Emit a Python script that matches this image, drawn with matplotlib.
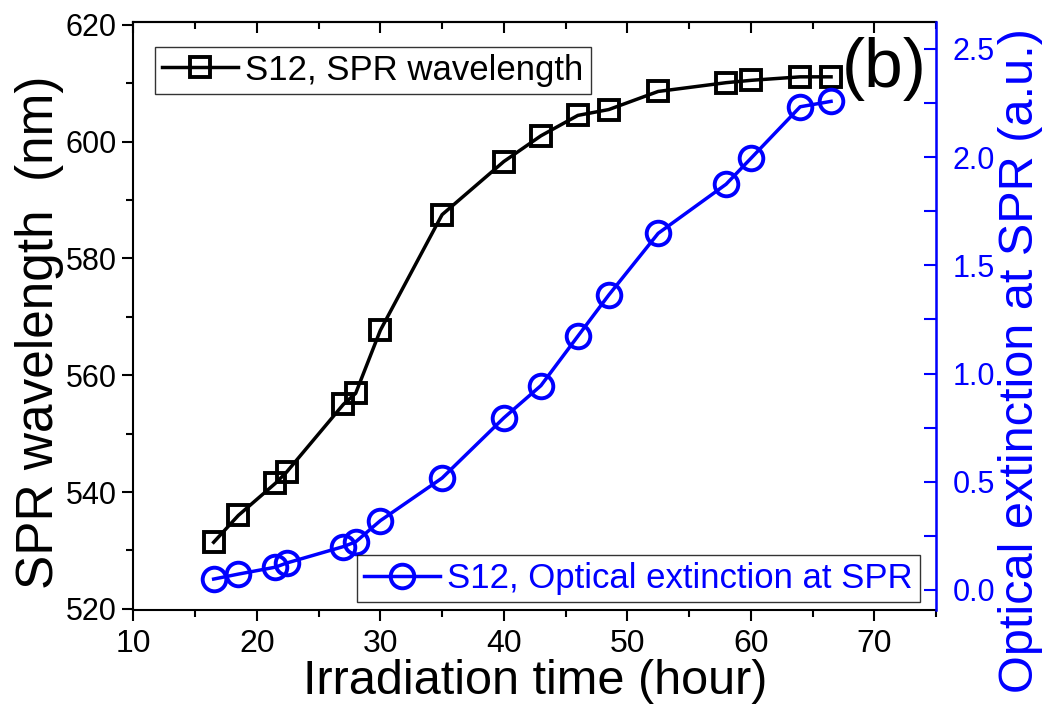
import matplotlib
matplotlib.use("Agg")
import matplotlib.pyplot as plt
from matplotlib import font_manager
from matplotlib.ticker import MultipleLocator

# ---- data ----
time_h = [16.5, 18.5, 21.5, 22.4, 27.0, 28.0, 30.0, 35.0, 40.0, 43.0, 46.0, 48.5, 52.5, 58.0, 60.0, 64.0, 66.5]
spr_wavelength = [531.4, 536.0, 541.5, 543.4, 555.0, 556.9, 567.7, 587.5, 596.6, 601.0, 604.5, 605.5, 608.6, 610.1, 610.5, 611.1, 611.1]
extinction = [0.05, 0.073, 0.105, 0.124, 0.20, 0.222, 0.32, 0.517, 0.795, 0.944, 1.173, 1.363, 1.648, 1.875, 1.994, 2.233, 2.258]

label_wl = "S12, SPR wavelength"
label_ext = "S12, Optical extinction at SPR"
xlabel = "Irradiation time (hour)"
ylabel_left = "SPR wavelength  (nm)"
ylabel_right = "Optical extinction at SPR (a.u.)"
panel = "(b)"

names = {f.name for f in font_manager.fontManager.ttflist}
regular = "Liberation Sans" if "Liberation Sans" in names else "DejaVu Sans"
narrow = "Liberation Sans Narrow" if "Liberation Sans Narrow" in names else regular

BLUE = "#0000ff"

fig = plt.figure(figsize=(10.47, 7.08), dpi=100)
ax = fig.add_axes([0.1274, 0.1384, 0.7666, 0.8306])
ax2 = ax.twinx()

ln1, = ax.plot(time_h, spr_wavelength, color="black", lw=2.5, marker="s", ms=14,
               mfc="none", mec="black", mew=2.8, label=label_wl)
ln2, = ax2.plot(time_h, extinction, color=BLUE, lw=2.5, marker="o", ms=17,
                mfc="none", mec=BLUE, mew=2.8, label=label_ext)

ax.set_xlim(10, 75)
ax.set_ylim(519.8, 620.5)
ax2.set_ylim(-0.093, 2.625)

ax.xaxis.set_major_locator(MultipleLocator(10))
ax.xaxis.set_minor_locator(MultipleLocator(5))
ax.yaxis.set_major_locator(MultipleLocator(20))
ax.yaxis.set_minor_locator(MultipleLocator(10))
ax2.yaxis.set_major_locator(MultipleLocator(0.5))
ax2.yaxis.set_minor_locator(MultipleLocator(0.25))
ax2.yaxis.set_major_formatter(plt.FormatStrFormatter("%.1f"))

ax.tick_params(axis="x", which="both", direction="out", top=False, width=1.5)
ax.tick_params(axis="x", which="major", length=8, pad=6)
ax.tick_params(axis="x", which="minor", length=5)
ax.tick_params(axis="y", which="both", direction="out", width=1.5)
ax.tick_params(axis="y", which="major", length=8, pad=4)
ax.tick_params(axis="y", which="minor", length=5)

# top ticks inward
axt = ax.secondary_xaxis("top")
axt.xaxis.set_major_locator(MultipleLocator(10))
axt.xaxis.set_minor_locator(MultipleLocator(5))
axt.tick_params(axis="x", which="both", direction="in", labeltop=False, width=1.5)
axt.tick_params(axis="x", which="major", length=8)
axt.tick_params(axis="x", which="minor", length=5)
axt.spines["top"].set_linewidth(1.5)

ax2.tick_params(axis="y", which="both", direction="in", colors=BLUE, width=1.5)
ax2.tick_params(axis="y", which="major", length=9, pad=12)
ax2.tick_params(axis="y", which="minor", length=9)

for s in ["left", "bottom", "top"]:
    ax.spines[s].set_linewidth(1.5)
ax2.spines["right"].set_color(BLUE)
ax2.spines["right"].set_linewidth(1.8)
for s in ["left", "bottom", "top"]:
    ax2.spines[s].set_visible(False)

for lab in ax.get_xticklabels():
    lab.set_fontfamily(narrow)
    lab.set_fontsize(23)
for lab in ax.get_yticklabels():
    lab.set_fontfamily(regular)
    lab.set_fontsize(22)
for lab in ax2.get_yticklabels():
    lab.set_fontfamily(regular)
    lab.set_fontsize(22)
    lab.set_color(BLUE)

ax.set_xlabel(xlabel, fontfamily=narrow, fontsize=35, labelpad=0)
ax.set_ylabel(ylabel_left, fontfamily=regular, fontsize=37)
ax.yaxis.set_label_coords(-0.087, 0.472)
ax2.set_ylabel(ylabel_right, fontfamily=regular, fontsize=35, color=BLUE)
ax2.yaxis.set_label_coords(1.077, 0.425)

leg1 = ax2.legend(handles=[ln1], loc="upper left", bbox_to_anchor=(0.027, 0.958),
                  prop={"family": narrow, "size": 25}, frameon=True, fancybox=False,
                  edgecolor="black", handlelength=2.2, handletextpad=0.2,
                  borderpad=0.2, borderaxespad=0)
leg1.get_frame().set_linewidth(1.0)
ax2.add_artist(leg1)
leg2 = ax2.legend(handles=[ln2], loc="lower right", bbox_to_anchor=(0.98, 0.013),
                  prop={"family": narrow, "size": 25}, frameon=True, fancybox=False,
                  edgecolor="black", handlelength=2.2, handletextpad=0.2,
                  borderpad=0.2, borderaxespad=0)
leg2.get_frame().set_linewidth(1.0)
for t in leg2.get_texts():
    t.set_color(BLUE)

ax2.text(0.988, 0.975, panel, transform=ax.transAxes, ha="right", va="top",
         fontfamily=narrow, fontsize=50)

fig.savefig("out.png", dpi=100)
